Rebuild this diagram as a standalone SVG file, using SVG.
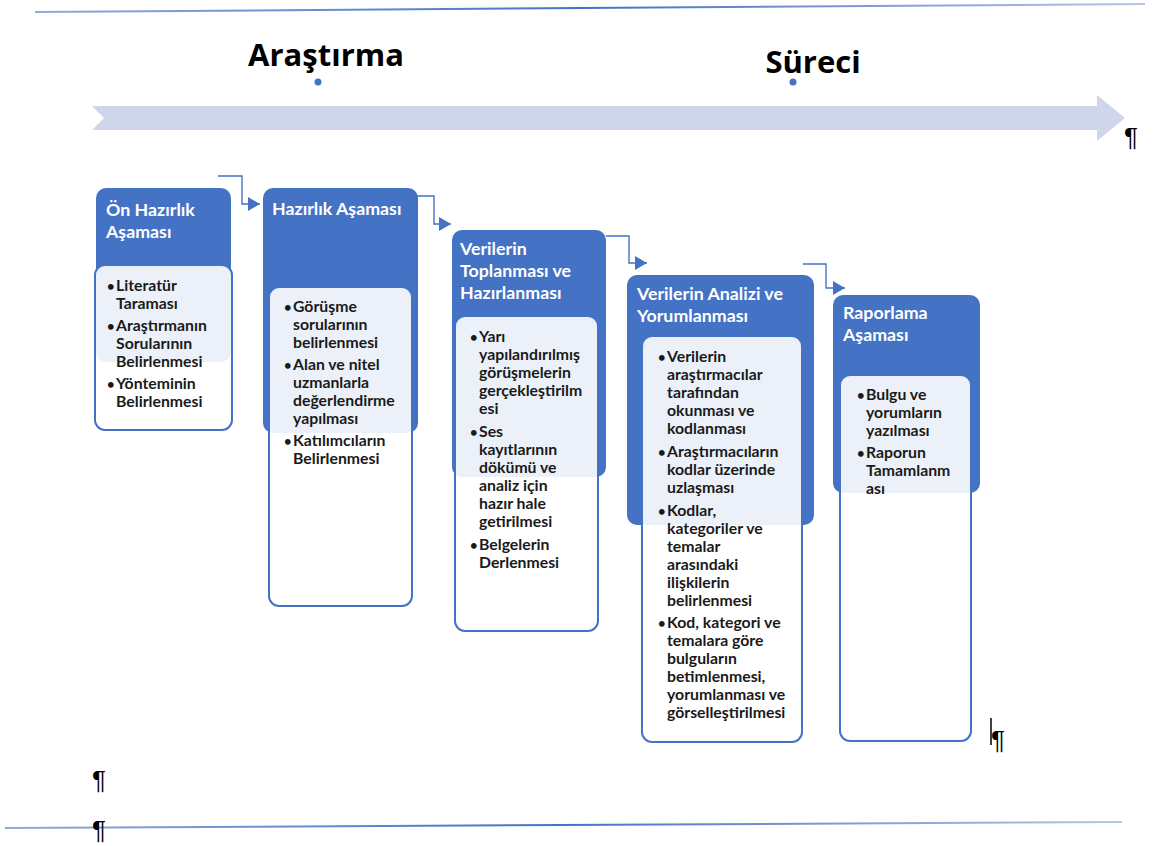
<svg xmlns="http://www.w3.org/2000/svg" width="1158" height="846" viewBox="0 0 1158 846">
  <defs>
    <linearGradient id="rule" x1="0" y1="0" x2="1" y2="0">
      <stop offset="0" stop-color="#8FAADC"/>
      <stop offset="0.5" stop-color="#4472C4"/>
      <stop offset="1" stop-color="#B4C7E7"/>
    </linearGradient>
    <marker id="tri" viewBox="0 0 12 14" refX="12" refY="7" markerWidth="12" markerHeight="14" markerUnits="userSpaceOnUse" orient="auto">
      <path d="M0,0 L12,7 L0,14 Z" fill="#4472C4"/>
    </marker>
  </defs>
  <style>
    .hdr { fill: #4472C4; }
    .box { fill: #FFFFFF; fill-opacity: 0.9; stroke: #4472C4; stroke-width: 2; }
    .ttl { font-family: Lato, "Liberation Sans", sans-serif; font-weight: bold; font-size: 17.8px; fill: #FFFFFF; }
    .itm { font-family: Lato, "Liberation Sans", sans-serif; font-weight: bold; font-size: 15.8px; fill: #1A1A1A; }
    .bul { font-size: 13px; }
    .big { font-family: "Open Sans", "Liberation Sans", sans-serif; font-weight: bold; font-size: 31px; fill: #000000; }
    .pil { font-family: "Liberation Sans", sans-serif; font-size: 26px; fill: #000000; }
    .con { fill: none; stroke: #4472C4; stroke-width: 1.4; marker-end: url(#tri); }
  </style>

  <rect width="1158" height="846" fill="#FFFFFF"/>

  <!-- page rules -->
  <line x1="35" y1="12" x2="1145" y2="4" stroke="url(#rule)" stroke-width="2"/>
  <line x1="5" y1="828" x2="1122" y2="822" stroke="url(#rule)" stroke-width="2"/>

  <!-- process banner -->
  <g id="banner">
    <polygon points="92,106 1097,106 1097,95 1125,118 1097,141 1097,130 92,130 104,118" fill="#CFD5EA"/>
    <text class="big" x="326" y="66" text-anchor="middle">Araştırma</text>
    <circle cx="318" cy="82" r="3.5" fill="#4472C4"/>
    <text class="big" x="813" y="73" text-anchor="middle">Süreci</text>
    <circle cx="793" cy="82" r="3.5" fill="#4472C4"/>
  </g>

  <!-- stage 1 -->
  <g id="stage1">
    <rect class="hdr" x="96" y="188" width="135" height="174" rx="10"/>
    <text class="ttl" x="106" y="216">Ön Hazırlık</text>
    <text class="ttl" x="106" y="238">Aşaması</text>
    <rect class="box" x="95" y="265" width="137" height="165" rx="10"/>
    <g class="itm">
      <text class="bul" x="107" y="291">•</text><text x="116" y="291">Literatür</text>
      <text x="116" y="309">Taraması</text>
      <text class="bul" x="107" y="331">•</text><text x="116" y="331">Araştırmanın</text>
      <text x="116" y="349">Sorularının</text>
      <text x="116" y="367">Belirlenmesi</text>
      <text class="bul" x="107" y="389">•</text><text x="116" y="389">Yönteminin</text>
      <text x="116" y="407">Belirlenmesi</text>
    </g>
  </g>

  <!-- stage 2 -->
  <g id="stage2">
    <rect class="hdr" x="263" y="188" width="155" height="245" rx="10"/>
    <text class="ttl" x="272" y="215">Hazırlık Aşaması</text>
    <rect class="box" x="269" y="287" width="143" height="319" rx="10"/>
    <g class="itm">
      <text class="bul" x="284" y="312">•</text><text x="293" y="312">Görüşme</text>
      <text x="293" y="330">sorularının</text>
      <text x="293" y="348">belirlenmesi</text>
      <text class="bul" x="284" y="370">•</text><text x="293" y="370">Alan ve nitel</text>
      <text x="293" y="388">uzmanlarla</text>
      <text x="293" y="406">değerlendirme</text>
      <text x="293" y="424">yapılması</text>
      <text class="bul" x="284" y="446">•</text><text x="293" y="446">Katılımcıların</text>
      <text x="293" y="464">Belirlenmesi</text>
    </g>
  </g>

  <!-- stage 3 -->
  <g id="stage3">
    <rect class="hdr" x="452" y="230" width="154" height="247" rx="10"/>
    <text class="ttl" x="460" y="255">Verilerin</text>
    <text class="ttl" x="460" y="277">Toplanması ve</text>
    <text class="ttl" x="460" y="299">Hazırlanması</text>
    <rect class="box" x="455" y="316" width="143" height="315" rx="10"/>
    <g class="itm">
      <text class="bul" x="470" y="342">•</text><text x="479" y="342">Yarı</text>
      <text x="479" y="360">yapılandırılmış</text>
      <text x="479" y="378">görüşmelerin</text>
      <text x="479" y="396">gerçekleştirilm</text>
      <text x="479" y="414">esi</text>
      <text class="bul" x="470" y="437">•</text><text x="479" y="437">Ses</text>
      <text x="479" y="455">kayıtlarının</text>
      <text x="479" y="473">dökümü ve</text>
      <text x="479" y="491">analiz için</text>
      <text x="479" y="509">hazır hale</text>
      <text x="479" y="527">getirilmesi</text>
      <text class="bul" x="470" y="550">•</text><text x="479" y="550">Belgelerin</text>
      <text x="479" y="568">Derlenmesi</text>
    </g>
  </g>

  <!-- stage 4 -->
  <g id="stage4">
    <rect class="hdr" x="627" y="275" width="187" height="250" rx="10"/>
    <text class="ttl" x="637" y="300">Verilerin Analizi ve</text>
    <text class="ttl" x="637" y="322">Yorumlanması</text>
    <rect class="box" x="642" y="336" width="160" height="406" rx="10"/>
    <g class="itm">
      <text class="bul" x="658" y="362">•</text><text x="667" y="362">Verilerin</text>
      <text x="667" y="380">araştırmacılar</text>
      <text x="667" y="398">tarafından</text>
      <text x="667" y="416">okunması ve</text>
      <text x="667" y="434">kodlanması</text>
      <text class="bul" x="658" y="457">•</text><text x="667" y="457">Araştırmacıların</text>
      <text x="667" y="475">kodlar üzerinde</text>
      <text x="667" y="493">uzlaşması</text>
      <text class="bul" x="658" y="516">•</text><text x="667" y="516">Kodlar,</text>
      <text x="667" y="534">kategoriler ve</text>
      <text x="667" y="552">temalar</text>
      <text x="667" y="570">arasındaki</text>
      <text x="667" y="588">ilişkilerin</text>
      <text x="667" y="606">belirlenmesi</text>
      <text class="bul" x="658" y="628">•</text><text x="667" y="628">Kod, kategori ve</text>
      <text x="667" y="646">temalara göre</text>
      <text x="667" y="664">bulguların</text>
      <text x="667" y="682">betimlenmesi,</text>
      <text x="667" y="700">yorumlanması ve</text>
      <text x="667" y="718">görselleştirilmesi</text>
    </g>
  </g>

  <!-- stage 5 -->
  <g id="stage5">
    <rect class="hdr" x="833" y="295" width="147" height="198" rx="10"/>
    <text class="ttl" x="843" y="319">Raporlama</text>
    <text class="ttl" x="843" y="341">Aşaması</text>
    <rect class="box" x="840" y="375" width="131" height="366" rx="10"/>
    <g class="itm">
      <text class="bul" x="857" y="400">•</text><text x="866" y="400">Bulgu ve</text>
      <text x="866" y="418">yorumların</text>
      <text x="866" y="436">yazılması</text>
      <text class="bul" x="857" y="458">•</text><text x="866" y="458">Raporun</text>
      <text x="866" y="476">Tamamlanm</text>
      <text x="866" y="494">ası</text>
    </g>
  </g>

  <!-- elbow connectors between stages -->
  <g id="connectors">
    <path class="con" d="M218,176 H242 V204 H260"/>
    <path class="con" d="M415,196 H434 V224 H451"/>
    <path class="con" d="M606,236 H629 V263 H647"/>
    <path class="con" d="M803,264 H826 V288 H845"/>
  </g>

  <!-- paragraph marks -->
  <text class="pil" x="1124" y="146">¶</text>
  <line x1="991" y1="718" x2="991" y2="745" stroke="#000000" stroke-width="1.5"/>
  <text class="pil" x="991" y="749">¶</text>
  <text class="pil" x="92" y="789">¶</text>
  <text class="pil" x="92" y="839">¶</text>
</svg>
